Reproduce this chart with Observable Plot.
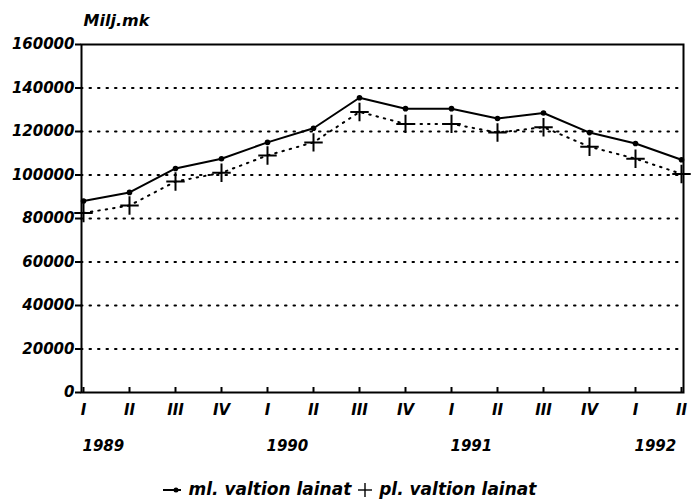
<!DOCTYPE html>
<html>
<head>
<meta charset="utf-8">
<script src="https://cdn.jsdelivr.net/npm/d3@7"></script>
<script src="https://cdn.jsdelivr.net/npm/@observablehq/plot@0.6"></script>
<style>
  body { margin: 0; background: #fff; }
  #wrap { position: relative; width: 699px; height: 503px; font-family: "DejaVu Sans", sans-serif; font-weight: bold; font-style: italic; }
  #legend { position: absolute; top: 479px; left: 0; width: 699px; text-align: center; font-size: 17px; line-height: 20px; white-space: nowrap; }
  #legend svg { vertical-align: middle; }
</style>
</head>
<body>
<div id="wrap">
  <div id="chart"></div>
  <div id="legend"></div>
</div>
<script>
const quarters = ["I","II","III","IV","I","II","III","IV","I","II","III","IV","I","II"];
const yearsOfPeriod = [1989,1989,1989,1989,1990,1990,1990,1990,1991,1991,1991,1991,1992,1992];
const mlValues = [88000, 92000, 103000, 107500, 115000, 121500, 135500, 130500, 130500, 126000, 128500, 119500, 114500, 107000];
const plValues = [82500, 86000, 97000, 101000, 109000, 115000, 129000, 123500, 123500, 119500, 122000, 113000, 107500, 100500];
const yTicks = [0, 20000, 40000, 60000, 80000, 100000, 120000, 140000, 160000];
const gridValues = [20000, 40000, 60000, 80000, 100000, 120000, 140000];
const seriesNames = ["ml. valtion lainat", "pl. valtion lainat"];
const yTitle = "Milj.mk";

const periods = quarters.map((q, i) => `${yearsOfPeriod[i]} ${q}`);
const data = periods.map((p, i) => ({p, ml: mlValues[i], pl: plValues[i]}));
const yearRows = periods.map((p, i) => ({p, year: String(yearsOfPeriod[i]), q: quarters[i]})).filter(d => d.q === "I");

const chart = Plot.plot({
  width: 699,
  height: 460,
  marginLeft: 81,
  marginRight: 16,
  marginTop: 44,
  marginBottom: 68,
  style: {fontFamily: "'DejaVu Sans', sans-serif", fontSize: "15px", fontWeight: "bold", fontStyle: "italic", color: "black", background: "white"},
  x: {type: "point", domain: periods, padding: 0},
  y: {domain: [0, 160000]},
  marks: [
    Plot.gridY(gridValues, {stroke: "black", strokeOpacity: 1, strokeWidth: 2, strokeDasharray: "1.5,7", strokeLinecap: "round"}),
    Plot.frame({stroke: "black", strokeWidth: 2}),
    Plot.axisY(yTicks, {tickSize: 6, tickPadding: 1, tickFormat: d => String(d), label: null, strokeWidth: 2, fontSize: 15}),
    Plot.axisX({tickSize: -5, strokeWidth: 2, text: null, label: null}),
    Plot.axisX({tickSize: 0, tickPadding: 12, tickFormat: d => d.split(" ")[1], label: null, fontSize: 15}),
    Plot.text(yearRows, {x: "p", text: "year", frameAnchor: "bottom", dy: 54, dx: -1, textAnchor: "start", lineAnchor: "middle", fontSize: 15}),
    Plot.text([yTitle], {frameAnchor: "top-left", dx: 2, dy: -24, text: d => d, textAnchor: "start", lineAnchor: "middle", fontSize: 16}),
    Plot.line(data, {x: "p", y: "pl", stroke: "black", strokeWidth: 2, strokeDasharray: "1.5,6", strokeLinecap: "round"}),
    Plot.dot(data, {x: "p", y: "pl", symbol: "plus", r: 6, stroke: "black", strokeWidth: 2}),
    Plot.line(data, {x: "p", y: "ml", stroke: "black", strokeWidth: 2}),
    Plot.dot(data, {x: "p", y: "ml", r: 2.8, fill: "black", stroke: "none"})
  ]
});
document.getElementById("chart").appendChild(chart);

const legend = document.getElementById("legend");
legend.innerHTML =
  `<svg width="20" height="14"><line x1="0" y1="7" x2="18" y2="7" stroke="black" stroke-width="2"/><circle cx="13" cy="7" r="2.5" fill="black"/></svg> ${seriesNames[0]} ` +
  `<svg width="16" height="16"><line x1="1" y1="8" x2="15" y2="8" stroke="black" stroke-width="1.4"/><line x1="8" y1="1" x2="8" y2="15" stroke="black" stroke-width="1.4"/></svg> ${seriesNames[1]}`;
</script>
</body>
</html>
